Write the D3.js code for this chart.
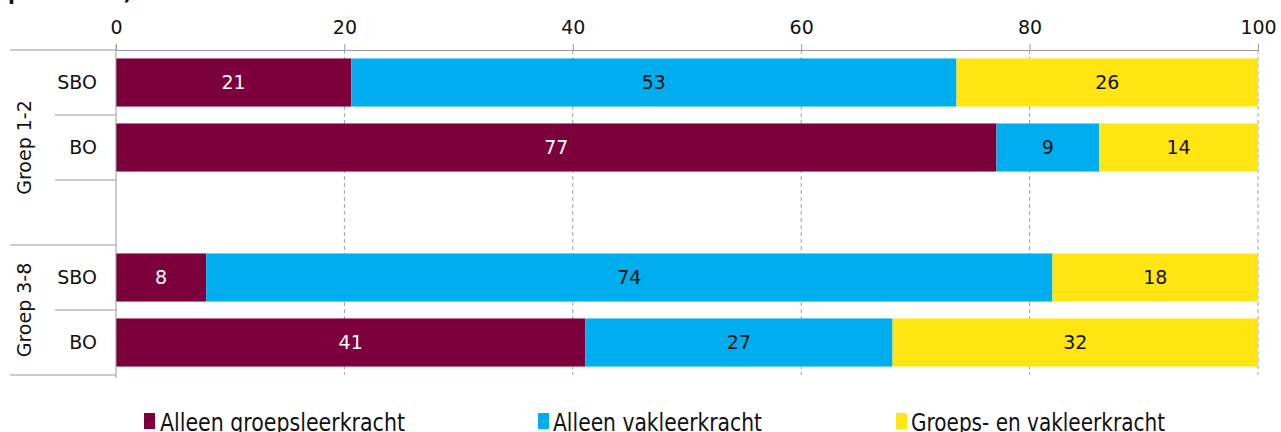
<!DOCTYPE html>
<html>
<head>
<meta charset="utf-8">
<script src="https://cdn.jsdelivr.net/npm/d3@7"></script>
<style>
  html, body { margin: 0; padding: 0; background: #fff; }
  svg { display: block; }
  text { font-family: "DejaVu Sans", sans-serif; }
</style>
</head>
<body>
<div id="chart"></div>
<script>
// categories (5 slots, the middle one is an empty spacer row)
const rowKeys = ['g12-SBO', 'g12-BO', 'g12-leeg', 'g38-SBO', 'g38-BO'];
const rowLabels = ['SBO', 'BO', '', 'SBO', 'BO'];
const groups = [
  { name: 'Groep 1-2', from: 'g12-SBO', to: 'g12-leeg' },
  { name: 'Groep 3-8', from: 'g38-SBO', to: 'g38-BO' },
];

// series values (percentages), null = no bar
const alleenGroeps = [20.6, 77.1, null, 7.9, 41.1];
const alleenVak = [53.0, 9.0, null, 74.1, 26.9];
const groepsEnVak = [26.4, 13.9, null, 18.0, 32.0];

const seriesNames = ['Alleen groepsleerkracht', 'Alleen vakleerkracht', 'Groeps- en vakleerkracht'];
const seriesColors = ['#7b003c', '#00aeef', '#ffe512'];
const labelColors = ['#fff', '#111', '#111'];
const xTicks = [0, 20, 40, 60, 80, 100];

const W = 1281, H = 432;
const m = { left: 116, right: 1258, top: 50, bottom: 375 };

const svg = d3.select('#chart').append('svg')
  .attr('width', W)
  .attr('height', H);

// cut-off title line at the very top
svg.append('text')
  .attr('x', 8)
  .attr('y', 0)
  .attr('font-size', 20)
  .attr('font-weight', 'bold')
  .attr('fill', '#111')
  .text('procenten)');

const x = d3.scaleLinear().domain([0, 100]).range([m.left, m.right]);
const y = d3.scaleBand().domain(rowKeys).range([m.top, m.bottom])
  .paddingInner(0.26).paddingOuter(0.13);
const step = y.step();

// dashed gridlines
svg.append('g').selectAll('line')
  .data(xTicks.slice(1))
  .join('line')
  .attr('x1', d => x(d)).attr('x2', d => x(d))
  .attr('y1', m.top).attr('y2', m.bottom)
  .attr('stroke', '#a0a0a0')
  .attr('stroke-dasharray', '4,3');

// top axis
const xAxis = svg.append('g')
  .attr('transform', `translate(0,${m.top})`)
  .call(d3.axisTop(x).tickValues(xTicks).tickSize(6).tickPadding(10));
xAxis.select('.domain').attr('stroke', '#999');
xAxis.selectAll('.tick line').attr('stroke', '#999');
xAxis.selectAll('.tick text')
  .attr('font-family', '"DejaVu Sans", sans-serif')
  .attr('font-size', 19)
  .attr('fill', '#111');

// stacked bars
const series = [alleenGroeps, alleenVak, groepsEnVak];
const segs = rowKeys.map((k, i) => {
  let acc = 0;
  return series.map((s, j) => {
    const v = s[i];
    const seg = { key: k, j, v, x0: acc, x1: acc + (v || 0) };
    acc += v || 0;
    return seg;
  }).filter(d => d.v != null);
}).flat();

svg.append('g').selectAll('rect')
  .data(segs)
  .join('rect')
  .attr('x', d => x(d.x0))
  .attr('y', d => y(d.key))
  .attr('width', d => x(d.x1) - x(d.x0))
  .attr('height', y.bandwidth())
  .attr('fill', d => seriesColors[d.j]);

svg.append('g').selectAll('text')
  .data(segs)
  .join('text')
  .attr('x', d => (x(d.x0) + x(d.x1)) / 2)
  .attr('y', d => y(d.key) + y.bandwidth() / 2)
  .attr('dy', '0.36em')
  .attr('text-anchor', 'middle')
  .attr('font-size', 19)
  .attr('fill', d => labelColors[d.j])
  .text(d => Math.round(d.v));

// left category axis
const catAxis = svg.append('g');
catAxis.append('line')
  .attr('x1', m.left).attr('x2', m.left)
  .attr('y1', m.top - 5).attr('y2', m.bottom + 3)
  .attr('stroke', '#999');

// separator lines between rows; long ones at group borders
const borders = d3.range(rowKeys.length + 1).map(i => m.top + i * step);
const groupBorderIdx = [0, 3, 5];
catAxis.selectAll('line.sep')
  .data(borders)
  .join('line')
  .attr('class', 'sep')
  .attr('x1', (d, i) => groupBorderIdx.includes(i) ? 10 : 55)
  .attr('x2', m.left)
  .attr('y1', d => d).attr('y2', d => d)
  .attr('stroke', '#999');

catAxis.selectAll('text.row')
  .data(rowKeys)
  .join('text')
  .attr('class', 'row')
  .attr('x', 97)
  .attr('y', d => y(d) + y.bandwidth() / 2)
  .attr('dy', '0.36em')
  .attr('text-anchor', 'end')
  .attr('font-size', 19)
  .attr('fill', '#111')
  .text((d, i) => rowLabels[i]);

catAxis.selectAll('text.group')
  .data(groups)
  .join('text')
  .attr('class', 'group')
  .attr('transform', d => {
    const y0 = y(d.from) - (step - y.bandwidth()) / 2;
    const y1 = y(d.to) + y.bandwidth() + (step - y.bandwidth()) / 2;
    return `translate(31,${(y0 + y1) / 2}) rotate(-90)`;
  })
  .attr('text-anchor', 'middle')
  .attr('font-size', 19)
  .attr('fill', '#111')
  .text(d => d.name);

// legend (cut off at the bottom edge, as in the original)
const legendX = [144, 538, 896];
const legendTextW = [245, 209, 254];
const legend = svg.append('g').selectAll('g')
  .data(seriesNames)
  .join('g')
  .attr('transform', (d, i) => `translate(${legendX[i]},413)`);
legend.append('rect')
  .attr('width', 11).attr('height', 16)
  .attr('fill', (d, i) => seriesColors[i]);
legend.append('text')
  .attr('x', (d, i) => i === 0 ? 16 : 15)
  .attr('y', 18)
  .attr('font-family', '"DejaVu Sans Condensed", "DejaVu Sans", sans-serif')
  .attr('font-stretch', 'condensed')
  .attr('font-size', 24)
  .attr('textLength', (d, i) => legendTextW[i])
  .attr('lengthAdjust', 'spacingAndGlyphs')
  .attr('fill', '#111')
  .text(d => d);
</script>
</body>
</html>
